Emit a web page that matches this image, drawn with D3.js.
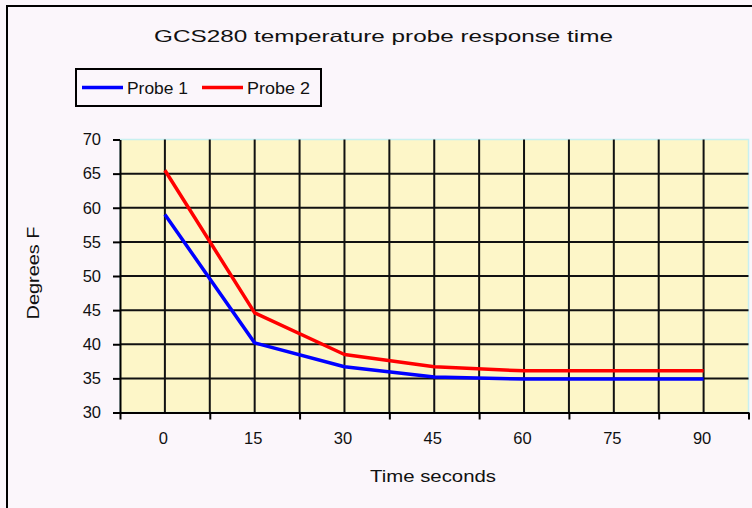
<!DOCTYPE html>
<html>
<head>
<meta charset="utf-8">
<script src="https://cdn.jsdelivr.net/npm/d3@7"></script>
<style>
  body { margin: 0; background: #fbf6fb; }
  svg { display: block; font-family: "Liberation Sans", Arial, sans-serif; }
</style>
</head>
<body>
<svg id="chart" width="752" height="508"></svg>
<script>
// Time axis (seconds) and readings for each probe, in degrees F
const times = [0, 15, 30, 45, 60, 75, 90];
const probe1 = [59.0, 40.2, 36.7, 35.2, 34.9, 34.9, 34.9];
const probe2 = [65.5, 44.6, 38.5, 36.7, 36.1, 36.1, 36.1];
const yTicks = [30, 35, 40, 45, 50, 55, 60, 65, 70];

const seriesList = [
  { name: 'Probe 1', values: probe1, color: '#0000ff' },
  { name: 'Probe 2', values: probe2, color: '#ff0000' },
];

const svg = d3.select('#chart');

// Plot area bounds
const plot = { left: 120, right: 748.5, top: 139.5, bottom: 412.5 };

const x = d3.scaleLinear().domain([-7.5, 97.5]).range([plot.left, plot.right]);
const y = d3.scaleLinear().domain([30, 70]).range([plot.bottom, plot.top]);

// Chart background and outer frame
svg.append('rect')
  .attr('width', 752).attr('height', 508)
  .attr('fill', '#fbf6fb');
svg.append('rect')
  .attr('x', 7).attr('y', 6)
  .attr('width', 800).attr('height', 560)
  .attr('fill', 'none')
  .attr('stroke', '#000')
  .attr('stroke-width', 2);

// Title - the original bitmap font is wide, so stretch to match
svg.append('text')
  .attr('x', 154).attr('y', 42)
  .attr('textLength', 459)
  .attr('lengthAdjust', 'spacingAndGlyphs')
  .attr('font-size', 16.5)
  .attr('fill', '#111')
  .text('GCS280 temperature probe response time');

// Legend
const legend = svg.append('g');
legend.append('rect')
  .attr('x', 76).attr('y', 69)
  .attr('width', 245).attr('height', 37)
  .attr('fill', '#fbf6fb')
  .attr('stroke', '#000')
  .attr('stroke-width', 2);
seriesList.forEach((s, i) => {
  const lx = 82 + i * 120;
  legend.append('line')
    .attr('x1', lx).attr('x2', lx + 41)
    .attr('y1', 87.5).attr('y2', 87.5)
    .attr('stroke', s.color)
    .attr('stroke-width', 3.5);
  legend.append('text')
    .attr('x', lx + 45).attr('y', 93.5)
    .attr('textLength', i === 0 ? 61 : 63)
    .attr('lengthAdjust', 'spacingAndGlyphs')
    .attr('font-size', 17)
    .attr('fill', '#111')
    .text(s.name);
});

// Plot area fill, with the pale border along the top and right
svg.append('rect')
  .attr('x', plot.left).attr('y', plot.top)
  .attr('width', plot.right - plot.left)
  .attr('height', plot.bottom - plot.top)
  .attr('fill', '#fdf6c8')
  .attr('stroke', '#c8f0f0')
  .attr('stroke-width', 1.5);

// Gridlines: horizontal every 5 degrees, vertical every 7.5 seconds
const grid = svg.append('g').attr('stroke', '#111').attr('stroke-width', 2);
grid.selectAll('.hgrid')
  .data(yTicks.filter((v) => v > 30 && v < 70))
  .join('line')
  .attr('class', 'hgrid')
  .attr('x1', plot.left).attr('x2', plot.right)
  .attr('y1', (d) => y(d)).attr('y2', (d) => y(d));
grid.selectAll('.vgrid')
  .data(d3.range(0, 90.1, 7.5))
  .join('line')
  .attr('class', 'vgrid')
  .attr('x1', (d) => x(d)).attr('x2', (d) => x(d))
  .attr('y1', plot.top).attr('y2', plot.bottom);

// Y axis with tick marks outside
const yAxis = svg.append('g')
  .attr('transform', `translate(${plot.left},0)`)
  .call(d3.axisLeft(y).tickValues(yTicks).tickSize(7).tickPadding(12)
    .tickSizeOuter(0));
yAxis.select('.domain').attr('stroke', '#000').attr('stroke-width', 2);
yAxis.selectAll('.tick line').attr('stroke', '#000').attr('stroke-width', 2);
yAxis.selectAll('.tick text')
  .attr('font-size', 16.5)
  .attr('font-family', '"Liberation Sans", Arial, sans-serif')
  .attr('fill', '#111');

// X axis: tick marks sit between the labelled categories
const xTickAxis = svg.append('g')
  .attr('transform', `translate(0,${plot.bottom})`)
  .call(d3.axisBottom(x).tickValues(d3.range(-7.5, 97.6, 15))
    .tickSize(7).tickSizeOuter(0).tickFormat(''));
xTickAxis.select('.domain').attr('stroke', '#000').attr('stroke-width', 2);
xTickAxis.selectAll('.tick line').attr('stroke', '#000').attr('stroke-width', 2);

const xLabelAxis = svg.append('g')
  .attr('transform', `translate(-2,${plot.bottom})`)
  .call(d3.axisBottom(x).tickValues(times).tickSize(0).tickPadding(20));
xLabelAxis.select('.domain').remove();
xLabelAxis.selectAll('.tick text')
  .attr('font-size', 16.5)
  .attr('font-family', '"Liberation Sans", Arial, sans-serif')
  .attr('fill', '#111');

// Axis titles
svg.append('text')
  .attr('x', 433).attr('y', 482)
  .attr('text-anchor', 'middle')
  .attr('textLength', 126)
  .attr('lengthAdjust', 'spacingAndGlyphs')
  .attr('font-size', 17)
  .attr('fill', '#111')
  .text('Time  seconds');

svg.append('text')
  .attr('transform', 'translate(39,273) rotate(-90)')
  .attr('text-anchor', 'middle')
  .attr('textLength', 93)
  .attr('lengthAdjust', 'spacingAndGlyphs')
  .attr('font-size', 17)
  .attr('fill', '#111')
  .text('Degrees F');

// Series lines
const line = d3.line()
  .x((d, i) => x(times[i]))
  .y((d) => y(d));

svg.append('g')
  .selectAll('path')
  .data(seriesList)
  .join('path')
  .attr('d', (s) => line(s.values))
  .attr('fill', 'none')
  .attr('stroke', (s) => s.color)
  .attr('stroke-width', 3.5)
  .attr('stroke-linejoin', 'round');
</script>
</body>
</html>
